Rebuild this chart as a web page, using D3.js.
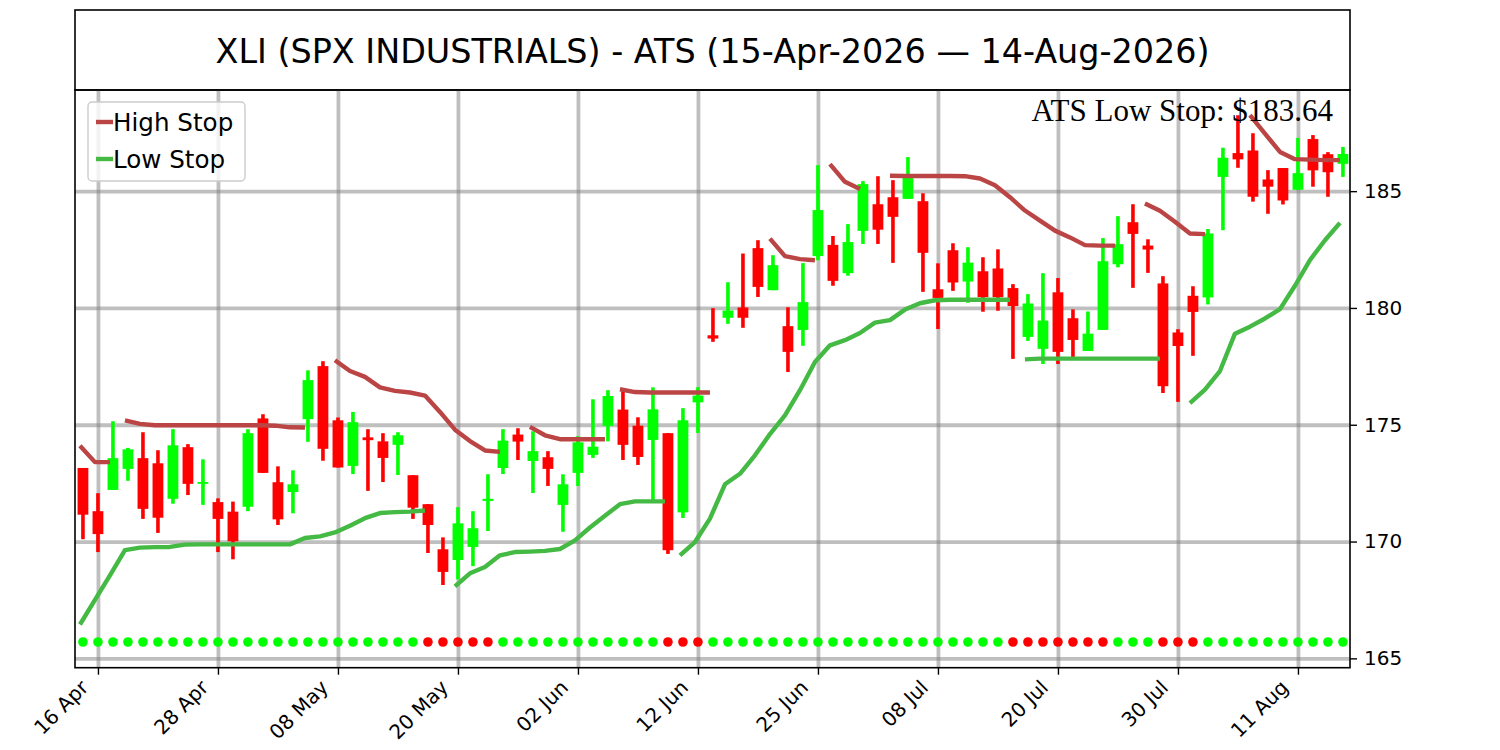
<!DOCTYPE html>
<html>
<head>
<meta charset="utf-8">
<title>XLI ATS</title>
<script src="https://d3js.org/d3.v7.min.js"></script>
<style>
  body { margin: 0; background: #fff; }
</style>
</head>
<body>
<div id="chart"></div>
<script>

// ---- data ----
var titleText = "XLI (SPX INDUSTRIALS) - ATS (15-Apr-2026 \u2014 14-Aug-2026)";

// one candle per trading day, index 0 = 15 Apr 2026, index 84 = 14 Aug 2026
var opens = [173.15,171.30,172.21,173.11,173.57,173.35,171.83,174.04,172.47,171.69,
             171.28,171.49,175.27,172.54,172.12,175.24,177.51,175.19,173.24,174.46,
             174.29,174.14,172.84,171.60,169.67,169.21,169.77,171.74,173.15,174.58,
             173.45,173.61,171.57,172.94,173.71,174.95,175.65,174.96,174.35,174.64,
             171.25,175.96,178.83,179.58,180.02,182.56,180.76,179.22,179.06,182.22,
             182.70,181.49,183.30,184.44,184.74,184.67,184.57,180.80,182.47,181.13,
             181.57,181.69,180.85,178.76,178.25,180.67,179.56,178.16,179.06,181.87,
             183.67,182.67,181.05,178.95,180.52,180.45,185.61,186.63,186.74,185.50,
             185.99,185.06,187.23,186.58,186.17];
var highs = [173.15,172.07,175.15,174.01,174.68,173.91,174.81,174.17,173.52,171.85,
             171.71,174.81,175.45,173.22,173.05,177.33,177.72,175.31,175.55,174.81,
             174.64,174.68,172.84,171.60,170.18,171.47,171.30,172.88,174.81,174.85,
             174.72,173.87,172.88,174.51,176.09,176.48,176.43,175.32,176.60,174.64,
             175.71,176.61,179.99,181.10,182.33,182.90,182.26,180.03,181.92,186.11,
             183.08,183.59,185.43,185.64,185.47,186.46,184.91,181.91,182.77,182.60,
             182.17,182.51,181.02,180.59,181.49,181.28,179.94,179.85,182.99,183.93,
             184.44,182.94,181.36,179.09,180.93,183.38,186.86,188.25,187.48,185.90,
             185.99,187.28,187.40,186.67,186.89];
var lows = [170.10,169.55,172.21,172.60,170.97,170.37,171.62,171.99,171.57,169.55,
            169.24,171.30,172.94,170.71,171.21,174.27,173.46,173.17,172.89,172.17,
            172.55,172.85,170.97,169.51,168.14,168.38,168.95,170.45,172.89,173.49,
            172.08,172.38,170.42,172.38,173.58,174.29,173.49,173.28,171.74,169.47,
            171.01,174.65,178.55,179.32,179.15,180.47,180.76,177.26,178.38,182.04,
            180.95,181.38,182.74,182.74,181.93,184.67,180.69,179.10,180.73,180.22,
            179.84,179.88,177.82,178.59,177.60,177.60,177.77,178.16,179.06,181.74,
            180.86,181.50,176.36,175.98,177.95,180.15,183.33,186.00,184.55,184.03,
            184.43,185.06,185.19,184.76,185.61];
var closes = [171.15,170.32,173.57,173.95,171.40,171.02,174.12,172.47,172.55,170.97,
              170.01,174.64,172.94,170.95,172.45,176.91,173.97,173.17,175.11,174.34,
              173.58,174.55,171.45,170.71,168.70,170.78,170.57,171.83,174.32,174.28,
              173.87,173.11,172.45,174.25,174.06,176.23,174.14,173.62,175.66,169.63,
              175.19,176.25,178.69,179.89,179.58,180.90,181.83,178.12,180.25,184.19,
              181.16,182.82,185.30,183.35,183.90,185.56,182.36,180.43,181.09,181.94,
              180.46,180.46,180.08,180.19,179.46,178.12,178.63,178.90,182.00,182.73,
              183.17,182.50,176.65,178.37,179.83,183.19,186.43,186.36,184.76,185.19,
              184.60,185.77,185.89,185.81,186.59];

// signal dots along the bottom: 1 = green, 0 = red
var signal = [1,1,1,1,1,1,1,1,1,1, 1,1,1,1,1,1,1,1,1,1,
              1,1,1,0,0,0,0,0,1,1, 1,1,1,1,1,1,1,1,1,0,
              0,0,1,1,1,1,1,1,1,1, 1,1,1,1,1,1,1,1,1,1,
              1,1,0,0,0,0,0,0,0,1, 1,1,0,0,0,1,1,1,1,1,
              1,1,1,1,1];
var signalLevel = 165.7;

// stop lines, drawn as separate runs (start index, values)
var highStopSegs = [
  [0,  [174.10,173.40,173.40]],
  [3,  [175.19,175.04,174.98,174.98,174.98,174.98,174.98,174.98,174.98,174.98,174.96,174.89,174.88]],
  [17, [177.76,177.30,177.05,176.60,176.45,176.38,176.25,175.55,174.79,174.30,173.90,173.84]],
  [30, [174.91,174.55,174.38,174.38,174.38,174.38]],
  [36, [176.52,176.40,176.38,176.38,176.38,176.38,176.38]],
  [46, [182.97,182.22,182.09,182.04]],
  [50, [186.16,185.40,185.09]],
  [54, [185.66,185.65,185.65,185.65,185.65,185.64,185.54,185.25,184.74,184.17,183.74,183.31,183.02,182.69,182.67,182.67]],
  [71, [184.47,184.16,183.69,183.19,183.16]],
  [78, [188.25,187.46,186.68,186.37,186.35,186.33,186.33]]
];
var lowStopSegs = [
  [0,  [166.45,167.50,168.55,169.63,169.74,169.76,169.77,169.87,169.88,169.88,169.88,169.88,
        169.88,169.88,169.88,170.15,170.22,170.39,170.68,171.00,171.22,171.26,171.28,171.33]],
  [25, [168.08,168.64,168.91,169.41,169.55,169.57,169.60,169.68,170.05,170.60,171.10,171.60,171.72,171.72,171.72]],
  [40, [169.41,169.98,170.98,172.45,172.90,173.69,174.60,175.40,176.48,177.69,178.40,178.62,
        178.93,179.37,179.48,179.93,180.20,180.33,180.35,180.35,180.35,180.35,180.35]],
  [63, [177.80,177.83,177.83,177.83,177.83,177.83,177.83,177.83,177.83,177.83]],
  [74, [175.93,176.50,177.30,178.90,179.20,179.55,179.95,180.95,182.05,182.90,183.64]]
];

var tickIdx = [1, 9, 17, 25, 33, 41, 49, 57, 65, 73, 81];
var tickLabels = ["16 Apr","28 Apr","08 May","20 May","02 Jun","12 Jun",
                  "25 Jun","08 Jul","20 Jul","30 Jul","11 Aug"];
var yTicks = [165, 170, 175, 180, 185];

// ---- layout ----
var plotL = 75, plotR = 1350, plotT = 90, plotB = 667.7;
var upColor = "#00ff00", downColor = "#ff0000";
var highColor = "#bb4444", lowColor = "#44b944";
var lineShift = -0.2;   // stop lines sit a little left of the candles
var sans = "DejaVu Sans, sans-serif";

var svg = d3.select("#chart").append("svg")
  .attr("width", 1500).attr("height", 750)
  .style("font-family", sans);

var x = d3.scaleLinear().domain([-0.53, 84.47]).range([plotL, plotR]);
var y = d3.scaleLinear().domain([164.6, 189.33]).range([plotB, plotT]);

// title box
svg.append("rect")
  .attr("x", plotL).attr("y", 10).attr("width", plotR - plotL).attr("height", 80)
  .attr("fill", "none").attr("stroke", "#000").attr("stroke-width", 1.6);
svg.append("text")
  .attr("x", (plotL + plotR) / 2).attr("y", 62.5)
  .attr("text-anchor", "middle")
  .style("font-size", "33.4px")
  .text(titleText);

// grid
var gridY = svg.append("g").attr("transform", "translate(" + plotL + ",0)")
  .call(d3.axisLeft(y).tickValues(yTicks).tickSize(-(plotR - plotL)).tickFormat(""));
var gridX = svg.append("g").attr("transform", "translate(0," + plotB + ")")
  .call(d3.axisBottom(x).tickValues(tickIdx).tickSize(-(plotB - plotT)).tickFormat(""));
[gridX, gridY].forEach(function(g){
  g.select(".domain").remove();
  g.selectAll("line").attr("stroke", "#808080").attr("stroke-opacity", 0.5).attr("stroke-width", 3.8);
});

var idx = d3.range(opens.length);
var bw = (x(1) - x(0)) * 0.72;

// wicks
svg.append("g").selectAll("line").data(idx).enter().append("line")
  .attr("x1", function(i){ return x(i); })
  .attr("x2", function(i){ return x(i); })
  .attr("y1", function(i){ return y(highs[i]); })
  .attr("y2", function(i){ return y(lows[i]); })
  .attr("stroke", function(i){ return closes[i] >= opens[i] ? upColor : downColor; })
  .attr("stroke-width", 3.6);

// bodies
svg.append("g").selectAll("rect").data(idx).enter().append("rect")
  .attr("x", function(i){ return x(i) - bw / 2; })
  .attr("width", bw)
  .attr("y", function(i){ return y(Math.max(opens[i], closes[i])); })
  .attr("height", function(i){ return Math.max(1.5, Math.abs(y(opens[i]) - y(closes[i]))); })
  .attr("fill", function(i){ return closes[i] >= opens[i] ? upColor : downColor; });

// stop lines
var line = d3.line()
  .x(function(d){ return x(d[0] + lineShift); })
  .y(function(d){ return y(d[1]); });

function drawSegs(segs, color){
  segs.forEach(function(s){
    var pts = s[1].map(function(v, k){ return [s[0] + k, v]; });
    svg.append("path").datum(pts)
      .attr("d", line)
      .attr("fill", "none")
      .attr("stroke", color)
      .attr("stroke-width", 4.4)
      .attr("stroke-linejoin", "round");
  });
}
drawSegs(highStopSegs, highColor);
drawSegs(lowStopSegs, lowColor);

// signal dots
svg.append("g").selectAll("circle").data(idx).enter().append("circle")
  .attr("cx", function(i){ return x(i); })
  .attr("cy", y(signalLevel))
  .attr("r", 4.8)
  .attr("fill", function(i){ return signal[i] ? upColor : downColor; });

// frame
svg.append("rect")
  .attr("x", plotL).attr("y", plotT).attr("width", plotR - plotL).attr("height", plotB - plotT)
  .attr("fill", "none").attr("stroke", "#000").attr("stroke-width", 1.6);

// axes
var yAxis = svg.append("g").attr("transform", "translate(" + plotR + ",0)")
  .call(d3.axisRight(y).tickValues(yTicks).tickSize(7).tickPadding(7).tickSizeOuter(0));
var xAxis = svg.append("g").attr("transform", "translate(0," + plotB + ")")
  .call(d3.axisBottom(x).tickValues(tickIdx).tickSize(7).tickSizeOuter(0)
        .tickFormat(function(d, i){ return tickLabels[i]; }));
[xAxis, yAxis].forEach(function(g){
  g.attr("font-family", null).attr("font-size", null);
  g.select(".domain").remove();
  g.selectAll("line").attr("stroke", "#000").attr("stroke-width", 1.4);
  g.selectAll("text").style("font-size", "20px").attr("fill", "#000");
});
xAxis.selectAll("text")
  .attr("x", 0).attr("y", 0).attr("dy", 0)
  .attr("text-anchor", "end")
  .attr("transform", "translate(-9,21) rotate(-45)");

// legend
var lg = svg.append("g").attr("transform", "translate(88,102)");
lg.append("rect").attr("width", 157).attr("height", 79).attr("rx", 4)
  .attr("fill", "#fff").attr("fill-opacity", 0.8)
  .attr("stroke", "#cccccc").attr("stroke-width", 1.4);
[["High Stop", highColor], ["Low Stop", lowColor]].forEach(function(it, k){
  var cy = 20 + k * 37;
  lg.append("line").attr("x1", 8).attr("x2", 25).attr("y1", cy).attr("y2", cy)
    .attr("stroke", it[1]).attr("stroke-width", 4.4);
  lg.append("text").attr("x", 25).attr("y", cy + 8.5)
    .style("font-size", "24.6px").text(it[0]);
});

// last low stop annotation
var lastLow = lowStopSegs[lowStopSegs.length - 1][1];
svg.append("text")
  .attr("x", 1333).attr("y", 121)
  .attr("text-anchor", "end")
  .style("font-family", "'Liberation Serif', 'Times New Roman', serif")
  .style("font-size", "31px")
  .text("ATS Low Stop: $" + lastLow[lastLow.length - 1].toFixed(2));

</script>
</body>
</html>
